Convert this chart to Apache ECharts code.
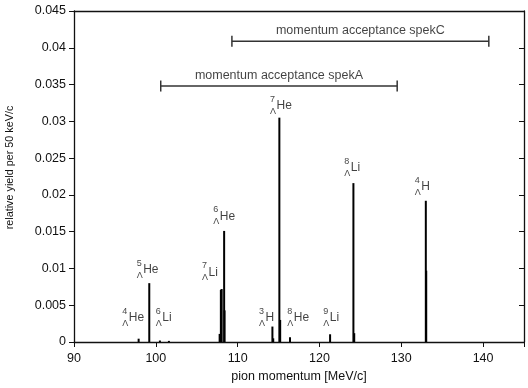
<!DOCTYPE html>
<html>
<head>
<meta charset="utf-8">
<script src="https://cdn.jsdelivr.net/npm/echarts@6/dist/echarts.min.js"></script>
<style>
  html, body { margin: 0; padding: 0; background: #fff; }
  #main { width: 528px; height: 388px; }
</style>
</head>
<body>
<div id="main"></div>
<script>
// peaks: pion momentum [MeV/c] and relative yield
const peakX = [97.9, 99.2, 100.5, 101.6, 107.8, 107.95, 108.05, 108.35, 108.4, 114.25, 114.35, 115.1, 115.2, 116.4, 121.3, 124.15, 124.25, 133.0, 133.05];
const peakY = [0.00045, 0.0080, 0.0002, 0.00015, 0.0011, 0.0071, 0.0072, 0.0151, 0.0043, 0.0021, 0.0005, 0.0305, 0.0030, 0.00065, 0.00105, 0.0216, 0.0012, 0.0192, 0.0097];

// hypernucleus labels (left / bottom of each label in data units)
const labelMass = ['4', '5', '6', '7', '6', '3', '7', '8', '9', '8', '4'];
const labelElem = ['He', 'He', 'Li', 'Li', 'He', 'H', 'He', 'He', 'Li', 'Li', 'H'];
const labelX = [95.9, 97.66, 99.99, 105.64, 107.03, 112.61, 113.96, 116.07, 120.47, 123.04, 131.64];
const labelY = [0.0022, 0.0087, 0.0022, 0.0084, 0.0160, 0.0022, 0.0310, 0.0022, 0.0022, 0.0226, 0.0200];

// momentum acceptance ranges
const accNames = ['momentum acceptance spekC', 'momentum acceptance spekA'];
const accFrom = [109.3, 100.6];
const accTo = [140.7, 129.5];
const accY = [0.0409, 0.0348];

const xTicks = [90, 100, 110, 120, 130, 140];
const yTicks = [0, 0.005, 0.01, 0.015, 0.02, 0.025, 0.03, 0.035, 0.04, 0.045];

const font = 'Liberation Sans, Arial, Helvetica, sans-serif';
const ink = '#111';

let mychart = echarts.init(document.getElementById('main'));

const accSeries = [];
accNames.forEach((name, i) => {
  accSeries.push({
    type: 'line',
    data: [[accFrom[i], accY[i]], [accTo[i], accY[i]]],
    symbol: 'rect',
    symbolSize: [1.5, 11],
    itemStyle: { color: '#333' },
    lineStyle: { color: '#333', width: 1.5 },
    silent: true
  });
  accSeries.push({
    type: 'scatter',
    symbolSize: 0,
    data: [[(accFrom[i] + accTo[i]) / 2, accY[i]]],
    label: {
      show: true, position: 'top', distance: 4,
      formatter: name,
      fontFamily: font, fontSize: 12.5, color: ink
    },
    silent: true
  });
});

var option = {
  animation: false,
  grid: { left: 74, right: 4, top: 11, bottom: 46, outerBoundsMode: 'none', containLabel: false },
  xAxis: [{
    type: 'value', min: 90, max: 145, interval: 10,
    name: 'pion momentum [MeV/c]', nameLocation: 'middle', nameGap: 27,
    nameTextStyle: { fontFamily: font, fontSize: 12.5, color: ink },
    axisLine: { show: true, lineStyle: { color: ink, width: 1.3 } },
    axisTick: { show: true, length: 5, lineStyle: { color: ink, width: 1 } },
    axisLabel: {
      margin: 10, fontFamily: font, fontSize: 12.5, color: ink,
      formatter: v => xTicks.indexOf(v) >= 0 ? String(v) : ''
    },
    splitLine: { show: false }
  }, {
    type: 'value', min: 90, max: 145, position: 'top',
    axisLine: { show: true, onZero: false, lineStyle: { color: ink, width: 1.3 } },
    axisTick: { show: false }, axisLabel: { show: false }, splitLine: { show: false }
  }],
  yAxis: [{
    type: 'value', min: 0, max: 0.045, interval: 0.005,
    name: 'relative yield per 50 keV/c', nameLocation: 'middle', nameGap: 58,
    nameTextStyle: { fontFamily: font, fontSize: 10.8, color: ink, padding: [0, 0, 0, 18] },
    axisLine: { show: true, lineStyle: { color: ink, width: 1.3 } },
    axisTick: { show: true, length: 5, lineStyle: { color: ink, width: 1 } },
    axisLabel: {
      margin: 8, fontFamily: font, fontSize: 12.5, color: ink,
      formatter: v => {
        const t = yTicks.find(k => Math.abs(k - v) < 1e-9);
        return t === undefined ? '' : String(+t.toFixed(3));
      }
    },
    splitLine: { show: false }
  }, {
    type: 'value', min: 0, max: 0.045, interval: 0.005, position: 'right',
    axisLine: { show: true, onZero: false, lineStyle: { color: ink, width: 1.3 } },
    axisTick: { show: true, inside: true, length: 5, lineStyle: { color: ink, width: 1 } },
    axisLabel: { show: false }, splitLine: { show: false }
  }],
  series: [{
    type: 'bar',
    data: peakX.map((x, i) => [x, peakY[i]]),
    barWidth: 2,
    itemStyle: { color: '#000' },
    silent: true
  }, {
    type: 'scatter',
    symbolSize: 0,
    data: labelX.map((x, i) => [x, labelY[i]]),
    label: {
      show: true,
      position: [0, 0], offset: [0, 2], align: 'left', verticalAlign: 'bottom',
      formatter: p => '{s|' + labelMass[p.dataIndex] + '}\n{l|Λ}{e|' + labelElem[p.dataIndex] + '}',
      rich: {
        s: { fontFamily: font, fontSize: 9, color: ink, lineHeight: 1, align: 'left' },
        l: { fontFamily: font, fontSize: 9, color: ink, lineHeight: 16, verticalAlign: 'bottom', align: 'left' },
        e: { fontFamily: font, fontSize: 12, color: ink, lineHeight: 16, verticalAlign: 'top', align: 'left', padding: [0, 0, 0, 0.5] }
      }
    },
    silent: true
  }].concat(accSeries)
};

mychart.setOption(option);
</script>
</body>
</html>
